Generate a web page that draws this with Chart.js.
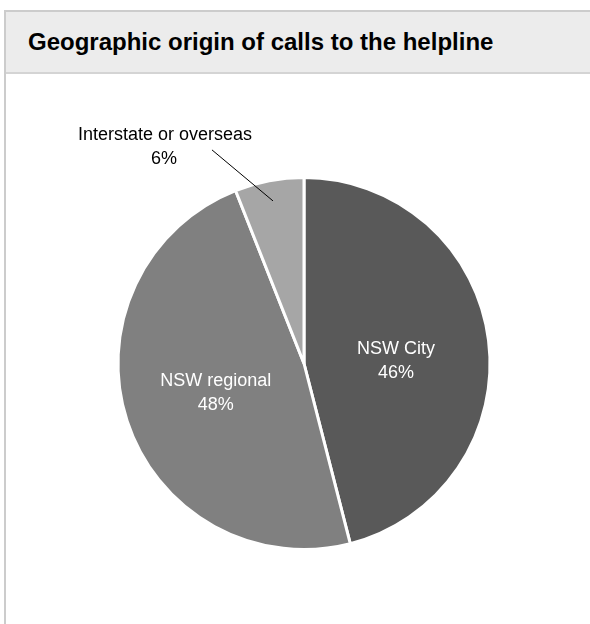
<!DOCTYPE html>
<html>
<head>
<meta charset="utf-8">
<script src="https://cdn.jsdelivr.net/npm/chart.js@4.4.0/dist/chart.umd.min.js"></script>
<style>
  html, body { margin: 0; padding: 0; background: #fff; }
  body { width: 590px; height: 624px; position: relative; overflow: hidden; font-family: "Liberation Sans", Arial, sans-serif; }
  .panel { position: absolute; left: 4px; top: 10px; width: 700px; height: 700px; border: 2px solid #cccccc; box-sizing: border-box; }
  .panel-head { height: 62px; background: #ececec; border-bottom: 2px solid #d4d4d4; box-sizing: border-box; }
  .panel-head h2 { margin: 0; padding: 0 0 0 22px; line-height: 60px; font-size: 24px; font-weight: bold; color: #000; }
  #wrap { position: absolute; left: 0; top: 0; width: 590px; height: 624px; }
</style>
</head>
<body>
<div class="panel">
  <div class="panel-head"><h2>Geographic origin of calls to the helpline</h2></div>
</div>
<div id="wrap"><canvas id="origemChamadas"></canvas></div>
<script>
const categorias = ['NSW City', 'NSW regional', 'Interstate or overseas'];
const percentuais = [46, 48, 6];
const cores = ['#595959', '#808080', '#a6a6a6'];

// ajuste fino (x, y) dos rótulos internos
const ajusteRotulo = [[-2, 9], [2, 0], [0, 0]];

// rótulos dentro das fatias, e o pequeno com linha para fora
const rotulosPizza = {
    id: 'rotulosPizza',
    afterDatasetsDraw(chart) {
        const ctx = chart.ctx;
        const arcos = chart.getDatasetMeta(0).data;
        ctx.save();
        ctx.font = '18px "Liberation Sans", Arial, sans-serif';
        ctx.textAlign = 'center';
        ctx.textBaseline = 'middle';
        arcos.forEach((arco, i) => {
            const p = arco.getProps(['x', 'y', 'startAngle', 'endAngle', 'outerRadius'], true);
            const meio = (p.startAngle + p.endAngle) / 2;
            const texto = percentuais[i] + '%';
            if (percentuais[i] < 10) {
                const xi = p.x + Math.cos(meio) * p.outerRadius * 0.89;
                const yi = p.y + Math.sin(meio) * p.outerRadius * 0.89;
                const xf = xi - 61;
                const yf = yi - 51;
                ctx.strokeStyle = '#000';
                ctx.lineWidth = 1;
                ctx.beginPath();
                ctx.moveTo(xi, yi);
                ctx.lineTo(xf, yf);
                ctx.stroke();
                ctx.fillStyle = '#000';
                ctx.fillText(categorias[i], xf - 47, yf - 15);
                ctx.fillText(texto, xf - 48, yf + 9);
            } else {
                const xm = p.x + Math.cos(meio) * p.outerRadius * 0.51 + ajusteRotulo[i][0];
                const ym = p.y + Math.sin(meio) * p.outerRadius * 0.51 + ajusteRotulo[i][1];
                ctx.fillStyle = '#fff';
                ctx.fillText(categorias[i], xm, ym - 12);
                ctx.fillText(texto, xm, ym + 12);
            }
        });
        ctx.restore();
    }
};

const grafico = document.getElementById('origemChamadas');

new Chart(grafico, {
    type: 'pie',
    data: {
        labels: categorias,
        datasets: [{
            data: percentuais,
            backgroundColor: cores,
            borderColor: '#ffffff',
            borderWidth: 3
        }]
    },
    options: {
        responsive: true,
        maintainAspectRatio: false,
        animation: false,
        layout: {
            padding: { left: 116, right: 98, top: 176, bottom: 73 }
        },
        plugins: {
            legend: { display: false },
            tooltip: { enabled: false }
        }
    },
    plugins: [rotulosPizza]
});
</script>
</body>
</html>
